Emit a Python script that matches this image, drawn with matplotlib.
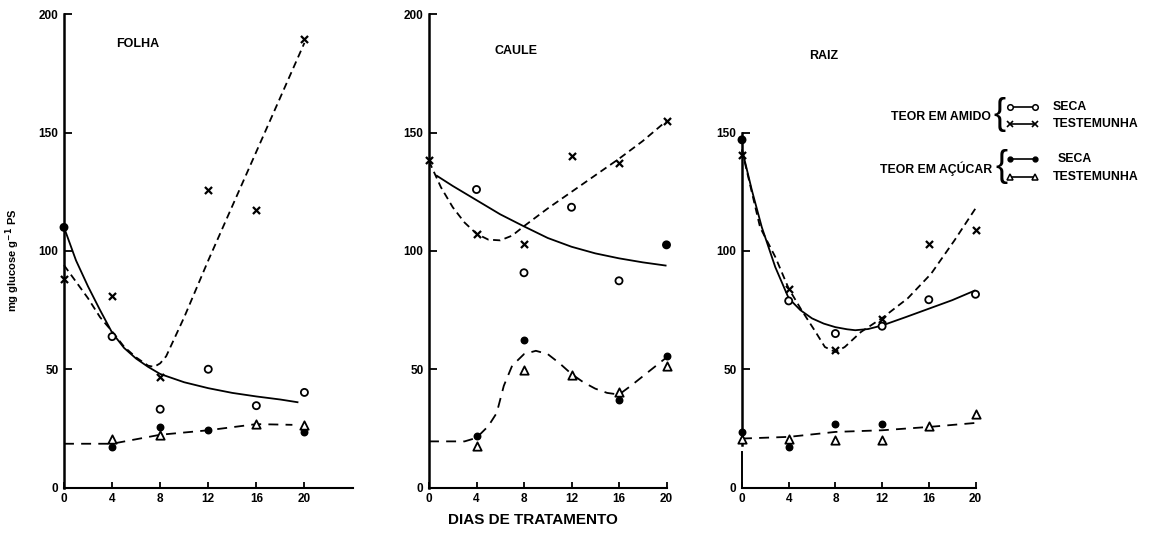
import matplotlib
matplotlib.use("Agg")
import matplotlib.pyplot as plt
from matplotlib.lines import Line2D

plt.rcParams['font.family'] = ['Liberation Sans', 'DejaVu Sans']
plt.rcParams['font.weight'] = 'bold'

W, H = 1153, 542

# ---------------- data ----------------
days = [0, 4, 8, 12, 16, 20]
x_ticks = [0, 4, 8, 12, 16, 20]
panel_titles = ["FOLHA", "CAULE", "RAIZ"]

# FOLHA
folha_amido_seca_x = [0, 4, 8, 12, 16, 20]
folha_amido_seca = [110, 63.8, 33.1, 50, 34.6, 40.2]
folha_amido_test_x = [0, 4, 8, 12, 16, 20]
folha_amido_test = [88.1, 80.9, 46.6, 126, 117.4, 189.7]
folha_acucar_seca_x = [4, 8, 12, 20]
folha_acucar_seca = [17, 25.6, 24.2, 23.5]
folha_acucar_test_x = [4, 8, 16, 20]
folha_acucar_test = [20.5, 22.3, 27, 26.5]
# fitted curves
folha_curve_seca_x = [0, 1, 2, 3, 4, 5, 6, 7, 8, 10, 12, 14, 16, 18, 19.5]
folha_curve_seca = [110, 96, 85, 75, 65.5, 59, 54.5, 51, 48, 44.5, 42, 40, 38.5, 37.2, 36]
folha_curve_test_x = [0, 1, 2, 3, 4, 5, 6, 7, 7.5, 8, 8.5, 10, 12, 14, 16, 18, 20]
folha_curve_test = [94, 87, 80, 72, 66, 59.5, 55, 51.5, 51, 52.5, 55.5, 72, 96, 119, 142, 165, 188]
folha_curve_acucar_x = [0, 4, 8, 12, 16, 19]
folha_curve_acucar = [18.5, 18.5, 22.3, 24.2, 26.8, 26.5]

# CAULE
caule_amido_seca_x = [4, 8, 12, 16, 20]
caule_amido_seca = [126, 90.8, 118.5, 87.4, 102.6]
caule_amido_test_x = [0, 4, 8, 12, 16, 20]
caule_amido_test = [138.4, 107.2, 102.8, 140.2, 137.1, 155]
caule_acucar_seca_x = [4, 8, 16, 20]
caule_acucar_seca = [21.9, 62.4, 37.2, 55.7]
caule_acucar_test_x = [4, 8, 12, 16, 20]
caule_acucar_test = [17.6, 49.6, 47.6, 40.5, 51.4]
caule_curve_seca_x = [0.6, 2, 4, 6, 8, 10, 12, 14, 16, 18, 20]
caule_curve_seca = [132, 127.5, 121.5, 115.5, 110.4, 105.5, 101.8, 99, 96.9, 95.2, 93.8]
caule_curve_test_x = [0, 1, 2, 3, 4, 5, 6, 7, 8, 10, 12, 14, 16, 18, 20]
caule_curve_test = [138, 127, 118.5, 112, 107.3, 104.8, 104.5, 106.5, 110.5, 118, 125, 132, 139, 146.5, 155]
caule_curve_acucar_x = [0, 3, 4, 5, 5.7, 6.3, 7, 8, 9, 10, 11, 12, 13, 14, 15, 16, 17, 18, 19, 20]
caule_curve_acucar = [19.5, 19.5, 21, 26, 31.5, 43, 51.5, 56.4, 57.8, 56.4, 52.5, 48, 44.5, 41.8, 40, 39.3, 43, 47, 51, 55]

# RAIZ
raiz_amido_seca_x = [0, 4, 8, 12, 16, 20]
raiz_amido_seca = [147, 78.9, 65.1, 68.2, 79.4, 81.7]
raiz_amido_test_x = [0, 4, 8, 12, 16, 20]
raiz_amido_test = [140.4, 83.8, 58, 71.4, 103.1, 109]
raiz_acucar_seca_x = [0, 4, 8, 12]
raiz_acucar_seca = [23.5, 17.2, 26.8, 27.0]
raiz_acucar_test_x = [0, 4, 8, 12, 16, 20]
raiz_acucar_test = [20.3, 20.3, 20, 20, 25.9, 31]
raiz_curve_seca_x = [0, 0.85, 1.7, 2.85, 4, 5, 6, 7, 8, 9, 9.7, 10.8, 12, 14, 16, 18, 20]
raiz_curve_seca = [143, 125.6, 110, 93.2, 80, 75, 71.5, 69.3, 67.8, 66.9, 66.5, 67, 68.5, 72, 75.6, 79.2, 83.4]
raiz_curve_test_x = [0, 1.55, 2.85, 4, 5.1, 6.3, 7.1, 8, 8.8, 10.2, 12.1, 14.2, 16.2, 18.2, 20]
raiz_curve_test = [142.5, 110, 97.5, 84.1, 75, 65.8, 59.4, 57.3, 59.4, 65.8, 72, 80, 90.4, 104.5, 118]
raiz_curve_acucar_x = [0, 4, 8, 12, 16, 20]
raiz_curve_acucar = [20.7, 21.4, 23.5, 24.2, 25.6, 27.3]

# points drawn filled although belonging to the open-circle series (as in the original)
folha_filled = [0]
caule_filled = [4]
raiz_filled = [0]

# ---------------- figure ----------------
fig = plt.figure(figsize=(W / 100, H / 100), dpi=100)


def rect(left, right, bottom, top):
    return [left / W, 1 - bottom / H, (right - left) / W, (bottom - top) / H]


ax1 = fig.add_axes(rect(64, 352.5, 487.5, 14.5))
ax2 = fig.add_axes(rect(429, 666.5, 487.5, 14.5))
ax3 = fig.add_axes(rect(742, 975.5, 487.5, 132.75))

SOLID = dict(color='black', lw=1.3, solid_capstyle='butt')
SHORT = dict(color='black', lw=1.3, dashes=(4.0, 2.5))
LONG = dict(color='black', lw=1.3, dashes=(5.5, 4.0))
TICK_FS = 8.5


def draw_panel(ax, xlim, ylim, yticks, a_s_x, a_s, a_t_x, a_t, s_s_x, s_s, s_t_x, s_t,
               c_s_x, c_s, c_t_x, c_t, c_a_x, c_a, filled, title, title_xy):
    ax.set_xlim(*xlim)
    ax.set_ylim(*ylim)
    ax.plot(c_s_x, c_s, **SOLID, clip_on=False)
    ax.plot(c_t_x, c_t, **SHORT, clip_on=False)
    ax.plot(c_a_x, c_a, **LONG, clip_on=False)
    faces = ['black' if i in filled else 'white' for i in range(len(a_s))]
    ax.scatter(a_s_x, a_s, s=26, marker='o', facecolors=faces, edgecolors='black',
               linewidths=1.3, zorder=5, clip_on=False)
    ax.scatter(a_t_x, a_t, s=26, marker='x', color='black', linewidths=1.6,
               zorder=5, clip_on=False)
    ax.scatter(s_s_x, s_s, s=22, marker='o', color='black', zorder=5, clip_on=False)
    ax.scatter(s_t_x, s_t, s=36, marker='^', facecolors='white', edgecolors='black',
               linewidths=1.3, zorder=6, clip_on=False)
    for sp in ['top', 'right']:
        ax.spines[sp].set_visible(False)
    ax.spines['left'].set_linewidth(1.8)
    ax.spines['bottom'].set_linewidth(1.5)
    ax.set_xticks(x_ticks)
    ax.set_yticks(yticks)
    ax.tick_params(axis='y', direction='in', length=6, width=1.3, labelsize=TICK_FS, pad=4)
    ax.tick_params(axis='x', direction='in', length=4, width=1.3, labelsize=TICK_FS, pad=4)
    for lab in ax.get_xticklabels() + ax.get_yticklabels():
        lab.set_fontweight('bold')
    ax.text(title_xy[0], title_xy[1], title, fontsize=9, fontweight='bold',
            ha='center', va='center', clip_on=False)
    ax.patch.set_visible(False)


draw_panel(ax1, (0, 24), (0, 200), [0, 50, 100, 150, 200],
           folha_amido_seca_x, folha_amido_seca, folha_amido_test_x, folha_amido_test,
           folha_acucar_seca_x, folha_acucar_seca, folha_acucar_test_x, folha_acucar_test,
           folha_curve_seca_x, folha_curve_seca, folha_curve_test_x, folha_curve_test,
           folha_curve_acucar_x, folha_curve_acucar, folha_filled, panel_titles[0], (6.1, 187.5))
draw_panel(ax2, (0, 20), (0, 200), [0, 50, 100, 150, 200],
           caule_amido_seca_x, caule_amido_seca, caule_amido_test_x, caule_amido_test,
           caule_acucar_seca_x, caule_acucar_seca, caule_acucar_test_x, caule_acucar_test,
           caule_curve_seca_x, caule_curve_seca, caule_curve_test_x, caule_curve_test,
           caule_curve_acucar_x, caule_curve_acucar, caule_filled, panel_titles[1], (7.3, 184.5))
draw_panel(ax3, (0, 20), (0, 150), [0, 50, 100, 150],
           raiz_amido_seca_x, raiz_amido_seca, raiz_amido_test_x, raiz_amido_test,
           raiz_acucar_seca_x, raiz_acucar_seca, raiz_acucar_test_x, raiz_acucar_test,
           raiz_curve_seca_x, raiz_curve_seca, raiz_curve_test_x, raiz_curve_test,
           raiz_curve_acucar_x, raiz_curve_acucar, raiz_filled, panel_titles[2], (7.0, 182.5))

# broken y axis of RAIZ panel
ax3.spines['left'].set_visible(False)
tr = ax3.get_yaxis_transform()
ax3.plot([0, 0], [0, 15], color='black', lw=1.4, transform=tr, clip_on=False)
ax3.plot([0, 0], [18, 150], color='black', lw=1.8, transform=tr, clip_on=False)

# axis labels
fig.text(13 / W, 1 - 260 / H, "mg glucose g$^{-1}$ PS", rotation=90, fontsize=8,
         fontweight='bold', ha='center', va='center')
fig.text(533 / W, 1 - 520 / H, "DIAS DE TRATAMENTO", fontsize=11, fontweight='bold',
         ha='center', va='center')


# legend (pixel positions converted to figure fractions)
def P(x, y):
    return (x / W, 1 - y / H)


def legend_pair(y, marker, face, ms, mew):
    x1, y1 = P(1010, y)
    x2, _ = P(1035, y)
    fig.add_artist(Line2D([x1, x2], [y1, y1], color='black', lw=1.2, marker=marker,
                          markersize=ms, markerfacecolor=face, markeredgecolor='black',
                          markeredgewidth=mew, transform=fig.transFigure))


LEG_FS = 8.8
BRACE = dict(fontsize=26, fontweight='normal', ha='center', va='center',
             family='Liberation Sans')
fig.text(*P(991, 117), "TEOR EM AMIDO", fontsize=LEG_FS, fontweight='bold', ha='right', va='center')
fig.text(*P(1000, 114), "{", **BRACE)
legend_pair(107, 'o', 'white', 4, 1.1)
legend_pair(124, 'x', 'black', 4, 1.2)
fig.text(*P(1053, 107), "SECA", fontsize=LEG_FS, fontweight='bold', ha='left', va='center')
fig.text(*P(1053, 124), "TESTEMUNHA", fontsize=LEG_FS, fontweight='bold', ha='left', va='center')

fig.text(*P(992, 169), "TEOR EM AÇÚCAR", fontsize=LEG_FS, fontweight='bold', ha='right', va='center')
fig.text(*P(1001, 167), "{", **BRACE)
legend_pair(159, 'o', 'black', 3.5, 1.0)
legend_pair(177, '^', 'white', 4.5, 1.1)
fig.text(*P(1058, 159), "SECA", fontsize=LEG_FS, fontweight='bold', ha='left', va='center')
fig.text(*P(1053, 177), "TESTEMUNHA", fontsize=LEG_FS, fontweight='bold', ha='left', va='center')

fig.savefig("out.png", dpi=100, facecolor='white')
